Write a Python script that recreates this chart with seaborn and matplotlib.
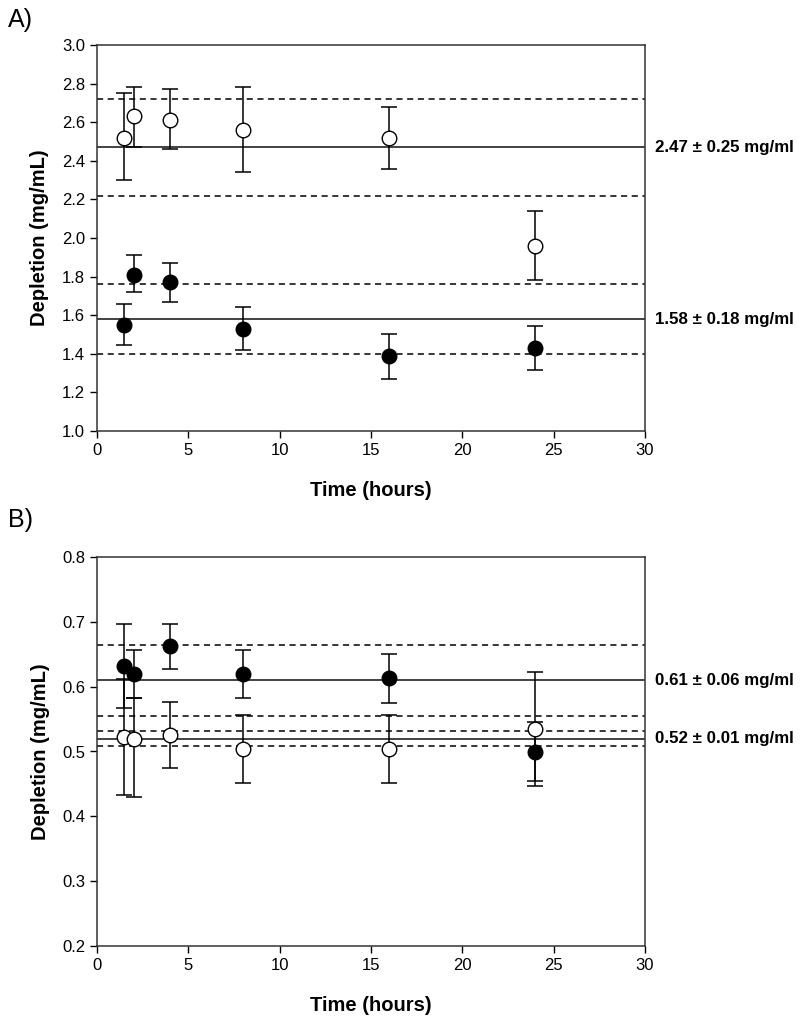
import numpy as np
import pandas as pd
import matplotlib
matplotlib.use("Agg")
import matplotlib.pyplot as plt
import seaborn as sns

# time points (hours)
hours = [1.5, 2, 4, 8, 16, 24]

# panel A - open circles
a_open = [2.52, 2.63, 2.61, 2.56, 2.52, 1.96]
a_open_lo = [2.30, 2.47, 2.46, 2.34, 2.36, 1.78]
a_open_hi = [2.75, 2.78, 2.77, 2.78, 2.68, 2.14]
# panel A - filled circles
a_fill = [1.55, 1.81, 1.77, 1.53, 1.39, 1.43]
a_fill_lo = [1.445, 1.72, 1.67, 1.42, 1.27, 1.315]
a_fill_hi = [1.66, 1.91, 1.87, 1.64, 1.50, 1.545]
# panel A mean +/- sd lines
a_means = [2.47, 1.58]
a_sds = [0.25, 0.18]
a_labels = ["2.47 ± 0.25 mg/ml", "1.58 ± 0.18 mg/ml"]

# panel B - filled circles
b_fill = [0.632, 0.620, 0.663, 0.620, 0.613, 0.500]
b_fill_lo = [0.567, 0.583, 0.628, 0.583, 0.575, 0.455]
b_fill_hi = [0.697, 0.657, 0.697, 0.657, 0.651, 0.545]
# panel B - open circles
b_open = [0.522, 0.520, 0.526, 0.504, 0.504, 0.535]
b_open_lo = [0.433, 0.430, 0.474, 0.451, 0.452, 0.447]
b_open_hi = [0.612, 0.583, 0.577, 0.556, 0.557, 0.623]
# panel B mean +/- sd lines
b_means = [0.61, 0.52]
b_sds = [0.055, 0.012]
b_labels = ["0.61 ± 0.06 mg/ml", "0.52 ± 0.01 mg/ml"]

sns.set_style("ticks")
plt.rcParams['font.family'] = ['Liberation Sans', 'DejaVu Sans']
plt.rcParams['text.color'] = 'black'
plt.rcParams['axes.labelcolor'] = 'black'

fig = plt.figure(figsize=(8, 10.22), dpi=100)
W, H = 800, 1022
axA = fig.add_axes([97 / W, 1 - 431 / H, 548 / W, 386 / H])
axB = fig.add_axes([97 / W, 1 - 946 / H, 548 / W, 389 / H])


def draw_points(ax, y, lo, hi, face):
    df = pd.DataFrame({"Time": hours, "Depletion": y})
    yerr = [np.array(y) - np.array(lo), np.array(hi) - np.array(y)]
    ax.errorbar(hours, y, yerr=yerr, fmt="none", ecolor="black",
                elinewidth=1.1, capsize=6, capthick=1.1, zorder=3)
    sns.scatterplot(data=df, x="Time", y="Depletion", ax=ax, s=110,
                    color=face, edgecolor="black", linewidth=1.0, zorder=4,
                    legend=False)


def draw_lines(ax, means, sds, labels):
    for m, s, lab in zip(means, sds, labels):
        ax.axhline(m, color="#333333", lw=1.3, zorder=2)
        ax.axhline(m + s, color="black", lw=1.1, ls=(0, (4, 3)), zorder=2)
        ax.axhline(m - s, color="black", lw=1.1, ls=(0, (4, 3)), zorder=2)
        ax.text(1.018, m, lab, transform=ax.get_yaxis_transform(),
                fontsize=12.2, fontweight="bold", va="center", ha="left")


# Panel A
draw_lines(axA, a_means, a_sds, a_labels)
draw_points(axA, a_open, a_open_lo, a_open_hi, "white")
draw_points(axA, a_fill, a_fill_lo, a_fill_hi, "black")
axA.set_ylim(1.0, 3.0)
axA.set_yticks(np.arange(1.0, 3.01, 0.2))
axA.yaxis.set_major_formatter(matplotlib.ticker.FormatStrFormatter('%.1f'))

# Panel B
draw_lines(axB, b_means, b_sds, b_labels)
draw_points(axB, b_fill, b_fill_lo, b_fill_hi, "black")
draw_points(axB, b_open, b_open_lo, b_open_hi, "white")
axB.set_ylim(0.2, 0.8)
axB.set_yticks(np.arange(0.2, 0.81, 0.1))
axB.yaxis.set_major_formatter(matplotlib.ticker.FormatStrFormatter('%.1f'))

for ax, tag in [(axA, "A)"), (axB, "B)")]:
    ax.set_xlim(0, 30)
    ax.set_xticks(range(0, 31, 5))
    ax.set_xlabel("Time (hours)", fontsize=14.5, fontweight="bold", labelpad=17)
    ax.set_ylabel("Depletion (mg/mL)", fontsize=14.5, fontweight="bold", labelpad=9)
    ax.tick_params(direction="out", length=5, width=1, labelsize=12,
                   colors="black", labelcolor="black")
    for sp in ax.spines.values():
        sp.set_color("#333333")
        sp.set_linewidth(1.1)

fig.text(8 / W, 1 - 20 / H, "A)", fontsize=18, va="center", ha="left")
fig.text(8 / W, 1 - 520 / H, "B)", fontsize=18, va="center", ha="left")

fig.savefig("out.png", dpi=100)
